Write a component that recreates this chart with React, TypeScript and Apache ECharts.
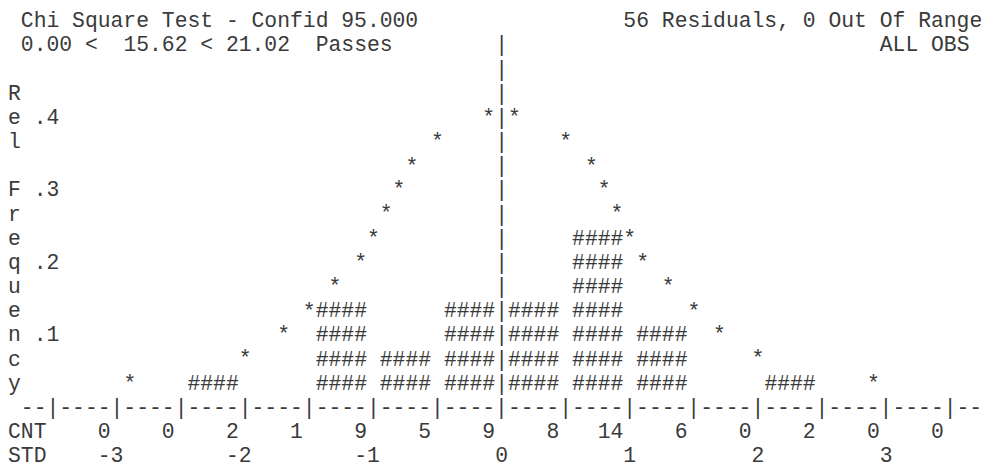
import React, { useEffect, useRef } from 'react';
import * as echarts from 'echarts';

// ---------- data ----------
const cntValues = [0, 0, 2, 1, 9, 5, 9, 8, 14, 6, 0, 2, 0, 0];
const binCenters = [-3.25, -2.75, -2.25, -1.75, -1.25, -0.75, -0.25, 0.25, 0.75, 1.25, 1.75, 2.25, 2.75, 3.25];
const binRelFreq = [0, 0, 0.033, 0, 0.133, 0.067, 0.133, 0.133, 0.233, 0.1, 0, 0.033, 0, 0];
const curveStd = [-2.9, -2.0, -1.7, -1.5, -1.3, -1.1, -1.0, -0.9, -0.8, -0.7, -0.5, -0.1,
  0.1, 0.5, 0.7, 0.8, 0.9, 1.0, 1.1, 1.3, 1.5, 1.7, 2.0, 2.9];
const curveRelFreq = [0.033, 0.067, 0.1, 0.133, 0.167, 0.2, 0.233, 0.267, 0.3, 0.333, 0.367, 0.4,
  0.4, 0.367, 0.333, 0.3, 0.267, 0.233, 0.2, 0.167, 0.133, 0.1, 0.067, 0.033];
const stdTickLabels = [-3, -2, -1, 0, 1, 2, 3];
const freqTickLabels = ['.1', '.2', '.3', '.4'];
const yAxisTitle = 'Rel Frequency';
const headerLeft = 'Chi Square Test - Confid 95.000';
const headerRight = '56 Residuals, 0 Out Of Range';
const testParts = ['0.00 <', '15.62 < 21.02', 'Passes'];
const obsLabel = 'ALL OBS';

// ---------- layout (character grid) ----------
const CW = 12.82;          // character width
const LH = 24.17;          // line height
const X0 = 8;              // left of column 0
const Y0 = 21.26;          // centre of text line 0
const FS = CW / 0.6;       // font size for monospaced font
const FONT_FAMILY = "'Liberation Mono', 'Courier New', monospace";
const FONT = `${FS}px ${FONT_FAMILY}`;
const INK = '#3a3a3a';
const ROW = 1 / 30;        // relative frequency per text row
const W = 985;
const H = 466;
const TIGHT_LH = 16;       // text box height for the last line, keeps it inside the page

const colX = (c: number) => X0 + CW * c;
const lineY = (i: number) => Y0 + LH * i;

const txt = (text: string, x: number, y: number, align = 'left', lineHeight?: number) => ({
  type: 'text',
  x,
  y,
  silent: true,
  style: {
    text, font: FONT, fill: INK, align, verticalAlign: 'middle', textAlign: align, textVerticalAlign: 'middle',
    ...(lineHeight ? { lineHeight } : {}),
  },
});

export default function App() {
  const ref = useRef<HTMLDivElement>(null);

  useEffect(() => {
    if (!ref.current) return;
    const chart = echarts.init(ref.current, undefined, { renderer: 'svg' });

    const graphics: any[] = [
      txt(headerLeft, colX(1), lineY(0)),
      txt(headerRight, colX(48), lineY(0)),
      txt(testParts[0], colX(1), lineY(1)),
      txt(testParts[1], colX(9), lineY(1)),
      txt(testParts[2], colX(24), lineY(1)),
      txt(obsLabel, colX(68), lineY(1)),
      txt('CNT', colX(0), lineY(17)),
      txt('STD', colX(0), lineY(18), 'left', TIGHT_LH),
    ];
    yAxisTitle.split('').forEach((ch, i) => {
      if (ch !== ' ') graphics.push(txt(ch, colX(0), lineY(3 + i)));
    });

    const nBins = cntValues.length;
    const axisRow = '--' + '|----'.repeat(nBins) + '|--';
    const pipeRows: number[][] = [];
    for (let r = 1; r <= 15; r++) pipeRows.push([0, r * ROW]);

    const textEl = (text: string, p: number[], align = 'center') => ({
      type: 'text',
      x: p[0],
      y: p[1],
      style: { text, font: FONT, fill: INK, align, verticalAlign: 'middle', textAlign: align, textVerticalAlign: 'middle' },
    });

    const baseLabel = {
      fontFamily: FONT_FAMILY,
      fontSize: FS,
      color: INK,
    };

    chart.setOption({
      animation: false,
      backgroundColor: '#ffffff',
      graphic: graphics,
      grid: {
        left: colX(1),
        right: W - colX(76),
        top: lineY(1),
        bottom: H - lineY(16),
        containLabel: false,
        outerBoundsMode: 'none',
      },
      xAxis: [
        {
          type: 'value',
          position: 'bottom',
          min: -3.75,
          max: 3.75,
          interval: 0.25,
          axisLine: { show: false, onZero: false },
          axisTick: { show: false },
          splitLine: { show: false },
          axisLabel: {
            ...baseLabel,
            margin: LH,
            verticalAlign: 'middle',
            align: 'right',
            padding: [0, CW / 2, 0, 0],
            showMinLabel: true,
            showMaxLabel: true,
            formatter: (v: number) => {
              const k = Math.round((v + 3) / 0.5);
              if (Math.abs(v - (-3 + 0.5 * k)) > 1e-6) return '';
              return k >= 0 && k < cntValues.length ? String(cntValues[k]) : '';
            },
          },
        },
        {
          type: 'value',
          position: 'bottom',
          offset: 0,
          min: -3.75,
          max: 3.75,
          interval: 0.25,
          axisLine: { show: false, onZero: false },
          axisTick: { show: false },
          splitLine: { show: false },
          axisLabel: {
            ...baseLabel,
            lineHeight: TIGHT_LH,
            margin: 2 * LH,
            verticalAlign: 'middle',
            align: 'center',
            showMinLabel: true,
            showMaxLabel: true,
            formatter: (v: number) => {
              const hit = stdTickLabels.find((t) => Math.abs(t - v) < 1e-6);
              if (hit === undefined) return '';
              return hit < 0 ? `${hit}\u00a0` : `${hit}`;
            },
          },
        },
      ],
      yAxis: {
        type: 'value',
        min: 0,
        max: 0.5,
        interval: 0.1,
        axisLine: { show: false },
        axisTick: { show: false },
        splitLine: { show: false },
        axisLabel: {
          ...baseLabel,
          inside: true,
          margin: CW,
          align: 'left',
          verticalAlign: 'middle',
          formatter: (v: number) => {
            const k = Math.round(v * 10);
            return k >= 1 && k <= freqTickLabels.length ? freqTickLabels[k - 1] : '';
          },
        },
      },
      series: [
        {
          name: 'axis row',
          type: 'custom',
          silent: true,
          data: [[-3.75, 0]],
          renderItem: (_p: any, api: any) =>
            textEl(axisRow, api.coord([api.value(0), api.value(1)]), 'left'),
        },
        {
          name: 'zero line',
          type: 'custom',
          silent: true,
          data: pipeRows,
          renderItem: (_p: any, api: any) => textEl('|', api.coord([api.value(0), api.value(1)])),
        },
        {
          name: 'Histogram',
          type: 'custom',
          silent: true,
          data: binCenters.map((c, i) => [c, binRelFreq[i]]),
          renderItem: (_p: any, api: any) => {
            const x = api.value(0);
            const n = Math.round(api.value(1) / ROW);
            const children: any[] = [];
            for (let r = 1; r <= n; r++) children.push(textEl('####', api.coord([x, r * ROW])));
            return { type: 'group', children };
          },
        },
        {
          name: 'Normal curve',
          type: 'custom',
          silent: true,
          data: curveStd.map((s, i) => [s, curveRelFreq[i]]),
          renderItem: (_p: any, api: any) => textEl('*', api.coord([api.value(0), api.value(1)])),
        },
      ],
    });

    return () => chart.dispose();
  }, []);

  return (
    <div
      ref={ref}
      style={{ position: 'fixed', left: 0, top: 0, width: W, height: H, background: '#fff' }}
    />
  );
}
